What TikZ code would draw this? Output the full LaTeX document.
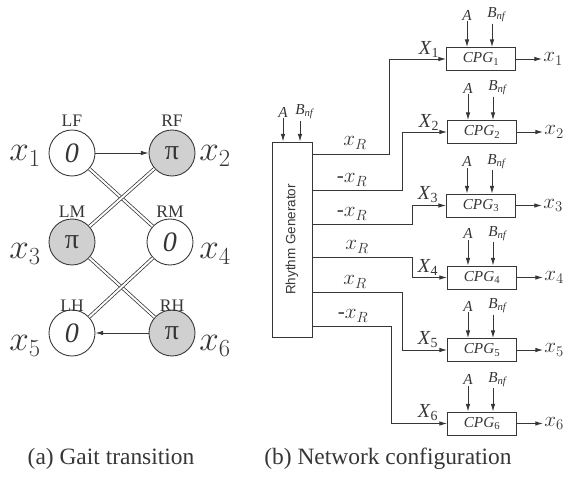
\RequirePackage{fix-cm}
\documentclass[tikz,border=0pt]{standalone}
\usepackage{fontspec}
\setmainfont{Liberation Serif}
\setsansfont{Liberation Sans}
\usepackage{tikz}
\usetikzlibrary{arrows.meta, positioning}
\definecolor{gaitink}{HTML}{363636}
\definecolor{gaitshade}{HTML}{D0D0D0}
\tikzset{
  arr/.style={-{Latex[length=6.5pt,width=3.8pt]}, line width=0.75pt, draw=gaitink},
  dbl/.style={double=white, double distance=1.7pt, line width=0.65pt, draw=gaitink},
  leg/.style={circle, draw=gaitink, line width=0.75pt, minimum size=1.38cm, inner sep=0pt,
    font=\fontsize{24}{24}\selectfont, text=gaitink},
  legon/.style={leg, fill=gaitshade},
  legname/.style={font=\fontsize{15}{15}\selectfont, text=gaitink},
  legvar/.style={font=\fontsize{30}{30}\selectfont, text=gaitink},
  cpgbox/.style={draw=gaitink, line width=0.75pt, minimum width=2.07cm, minimum height=0.69cm,
    inner sep=0pt, font=\fontsize{13}{13}\selectfont, text=gaitink},
  inlabel/.style={font=\fontsize{13}{13}\selectfont, text=gaitink, inner sep=1pt},
  xin/.style={font=\fontsize{17}{17}\selectfont, text=gaitink, inner sep=1pt},
  xrlabel/.style={font=\fontsize{18}{18}\selectfont, text=gaitink, inner sep=1pt},
  xout/.style={font=\fontsize{18}{18}\selectfont, text=gaitink, inner sep=1pt, anchor=west},
  caption/.style={font=\fontsize{20}{20}\selectfont, text=gaitink}
}
\newcommand{\bnf}{\textit{B}\rlap{\textsubscript{\textit{nf}}}}
\begin{document}
\begin{tikzpicture}[x=0.03cm, y=-0.03cm]
  \useasboundingbox (0,0) rectangle (565,480);
  % (a) gait transition
  \node[leg]   (lf) at (72,153)  {\textit{0}};
  \node[legon] (rf) at (172,153) {π};
  \node[legon] (lm) at (72,242)  {π};
  \node[leg]   (rm) at (170,242) {\textit{0}};
  \node[leg]   (lh) at (72,333)  {\textit{0}};
  \node[legon] (rh) at (172,333) {π};
  \node[legname] (lfname) at (72,121)  {LF};
  \node[legname] (rfname) at (172,121) {RF};
  \node[legname] (lmname) at (72,212)  {LM};
  \node[legname] (rmname) at (170,212) {RM};
  \node[legname] (lhname) at (72,306)  {LH};
  \node[legname] (rhname) at (172,306) {RH};
  \node[legvar] (lx1) at (25,156)  {$x_1$};
  \node[legvar] (lx2) at (215,156) {$x_2$};
  \node[legvar] (lx3) at (25,254)  {$x_3$};
  \node[legvar] (lx4) at (215,254) {$x_4$};
  \node[legvar] (lx5) at (25,346)  {$x_5$};
  \node[legvar] (lx6) at (215,346) {$x_6$};
  \draw[arr] (lf) -- (rf);
  \draw[arr] (rh) -- (lh);
  \draw[dbl] (lf) -- (rm);
  \draw[dbl] (rf) -- (lm);
  \draw[dbl] (lm) -- (rh);
  \draw[dbl] (rm) -- (lh);
  \node[caption] (capa) at (111,459) {(a) Gait transition};
  % (b) network configuration
  \node[draw=gaitink, line width=0.75pt, minimum width=1.2cm, minimum height=5.85cm] (rg) at (292,239.5) {};
  \node[rotate=90, font=\sffamily\fontsize{11.5}{11.5}\selectfont, text=gaitink] (rgname) at (rg.center) {Rhythm Generator};
  \node[inlabel] (rga) at (283,112) {\textit{A}};
  \node[inlabel] (rgb) at (300,112) {\bnf};
  \draw[arr] (rga) -- (rga |- rg.north);
  \draw[arr] (rgb) -- (rgb |- rg.north);
  \node[cpgbox] (cpg1) at (481,59)    {\textit{CPG}\textsubscript{1}};
  \node[cpgbox] (cpg2) at (482,132)   {\textit{CPG}\textsubscript{2}};
  \node[cpgbox] (cpg3) at (481,205.5) {\textit{CPG}\textsubscript{3}};
  \node[cpgbox] (cpg4) at (482,277.5) {\textit{CPG}\textsubscript{4}};
  \node[cpgbox] (cpg5) at (482,350)   {\textit{CPG}\textsubscript{5}};
  \node[cpgbox] (cpg6) at (482,423.5) {\textit{CPG}\textsubscript{6}};
  \node[inlabel] (a1) at (467,15)    {\textit{A}};
  \node[inlabel] (b1) at (492,15)    {\bnf};
  \node[inlabel] (a2) at (468,88)    {\textit{A}};
  \node[inlabel] (b2) at (493,88)    {\bnf};
  \node[inlabel] (a3) at (467,161.5) {\textit{A}};
  \node[inlabel] (b3) at (492,161.5) {\bnf};
  \node[inlabel] (a4) at (468,233.5) {\textit{A}};
  \node[inlabel] (b4) at (493,233.5) {\bnf};
  \node[inlabel] (a5) at (468,306)   {\textit{A}};
  \node[inlabel] (b5) at (493,306)   {\bnf};
  \node[inlabel] (a6) at (468,379.5) {\textit{A}};
  \node[inlabel] (b6) at (493,379.5) {\bnf};
  \draw[arr] (a1) -- (a1 |- cpg1.north);
  \draw[arr] (b1) -- (b1 |- cpg1.north);
  \draw[arr] (a2) -- (a2 |- cpg2.north);
  \draw[arr] (b2) -- (b2 |- cpg2.north);
  \draw[arr] (a3) -- (a3 |- cpg3.north);
  \draw[arr] (b3) -- (b3 |- cpg3.north);
  \draw[arr] (a4) -- (a4 |- cpg4.north);
  \draw[arr] (b4) -- (b4 |- cpg4.north);
  \draw[arr] (a5) -- (a5 |- cpg5.north);
  \draw[arr] (b5) -- (b5 |- cpg5.north);
  \draw[arr] (a6) -- (a6 |- cpg6.north);
  \draw[arr] (b6) -- (b6 |- cpg6.north);
  \node[xout] (y1) at (542,59)    {$x_1$};
  \node[xout] (y2) at (543,132)   {$x_2$};
  \node[xout] (y3) at (542,205.5) {$x_3$};
  \node[xout] (y4) at (543,277.5) {$x_4$};
  \node[xout] (y5) at (543,350)   {$x_5$};
  \node[xout] (y6) at (543,423.5) {$x_6$};
  \draw[arr] (cpg1) -- (y1);
  \draw[arr] (cpg2) -- (y2);
  \draw[arr] (cpg3) -- (y3);
  \draw[arr] (cpg4) -- (y4);
  \draw[arr] (cpg5) -- (y5);
  \draw[arr] (cpg6) -- (y6);
  \draw[arr] (rg.east |- 0,154) -- (389,154) |- (cpg1.west);
  \draw[arr] (rg.east |- 0,190) -- (402,190) |- (cpg2.west);
  \draw[arr] (rg.east |- 0,224) -- (412,224) |- (cpg3.west);
  \draw[arr] (rg.east |- 0,257) -- (412,257) |- (cpg4.west);
  \draw[arr] (rg.east |- 0,292) -- (402,292) |- (cpg5.west);
  \draw[arr] (rg.east |- 0,326) -- (391,326) |- (cpg6.west);
  \node[xrlabel] (r1) at (355,143) {$x_R$};
  \node[xrlabel] (r2) at (352,180) {-$x_R$};
  \node[xrlabel] (r3) at (352,214) {-$x_R$};
  \node[xrlabel] (r4) at (357,247) {$x_R$};
  \node[xrlabel] (r5) at (355,282) {$x_R$};
  \node[xrlabel] (r6) at (353,316) {-$x_R$};
  \node[xin] (X1) at (429,49)  {\textit{X}\textsubscript{1}};
  \node[xin] (X2) at (429,122) {\textit{X}\textsubscript{2}};
  \node[xin] (X3) at (428,195) {\textit{X}\textsubscript{3}};
  \node[xin] (X4) at (428,267) {\textit{X}\textsubscript{4}};
  \node[xin] (X5) at (428,340) {\textit{X}\textsubscript{5}};
  \node[xin] (X6) at (428,413) {\textit{X}\textsubscript{6}};
  \node[caption] (capb) at (388,459) {(b) Network configuration};
\end{tikzpicture}
\end{document}
